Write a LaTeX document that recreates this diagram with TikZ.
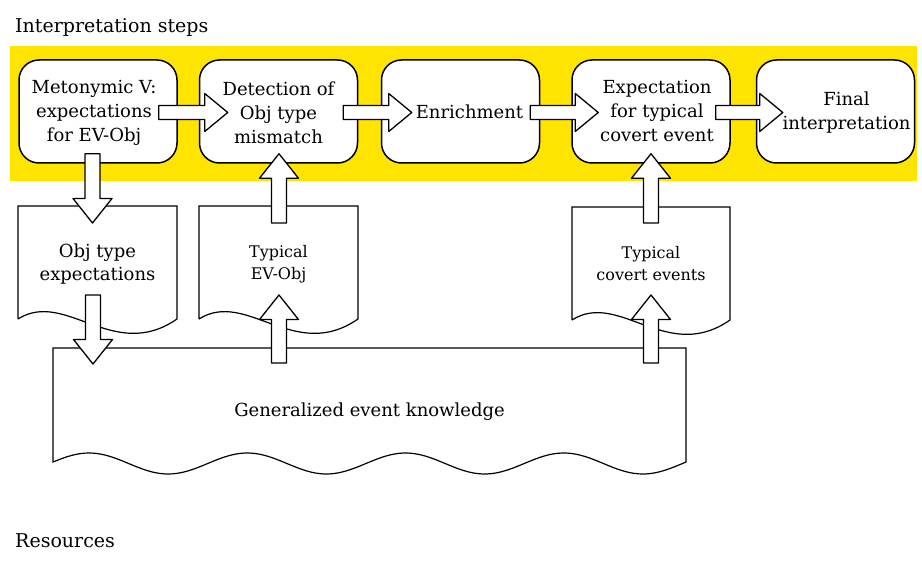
\documentclass[tikz,border=0pt]{standalone}
\usepackage{fontspec}
\setmainfont{DejaVu Serif}
\usetikzlibrary{calc}
\definecolor{bandyellow}{HTML}{FFE400}
\tikzset{
  stepbox/.style={draw=black, line width=1.5pt, fill=white, rounded corners=20pt,
    minimum width=158pt, minimum height=103pt, inner sep=0pt},
  steptext/.style={align=center, inner sep=0pt, font=\fontsize{18}{24}\selectfont},
  doctext/.style={align=center, inner sep=0pt, font=\fontsize{16}{22}\selectfont},
  doctextbig/.style={align=center, inner sep=0pt, font=\fontsize{18}{23}\selectfont},
  bigtext/.style={inner sep=0pt, font=\fontsize{18}{24}\selectfont},
  labeltext/.style={inner sep=0pt, font=\fontsize{19}{24}\selectfont},
  docline/.style={draw=black, line width=1.2pt},
  blockarrow/.style={draw=black, line width=1.3pt, fill=white, line join=round}
}
\newcommand\harr[2]{\draw[blockarrow] let \p1=(#1), \p2=(#2) in
  (\x1,\y1+7pt) -- (\x2-23pt,\y1+7pt) -- (\x2-23pt,\y1+19pt) -- (\x2,\y1)
  -- (\x2-23pt,\y1-19pt) -- (\x2-23pt,\y1-7pt) -- (\x1,\y1-7pt) -- cycle;}
\newcommand\darr[2]{\draw[blockarrow] let \p1=(#1), \p2=(#2) in
  (\x2-7.5pt,\y1) -- (\x2-7.5pt,\y2+24.5pt) -- (\x2-19.5pt,\y2+24.5pt) -- (\x2,\y2)
  -- (\x2+19.5pt,\y2+24.5pt) -- (\x2+7.5pt,\y2+24.5pt) -- (\x2+7.5pt,\y1) -- cycle;}
\newcommand\uarr[2]{\draw[blockarrow] let \p1=(#1), \p2=(#2) in
  (\x2-7.5pt,\y1) -- (\x2-7.5pt,\y2-24.5pt) -- (\x2-19.5pt,\y2-24.5pt) -- (\x2,\y2)
  -- (\x2+19.5pt,\y2-24.5pt) -- (\x2+7.5pt,\y2-24.5pt) -- (\x2+7.5pt,\y1) -- cycle;}
\begin{document}
\begin{tikzpicture}[x=1pt,y=-1pt]
\useasboundingbox (0,0) rectangle (922,567);
% labels
\node[labeltext, anchor=base west] (title) at (15,33) {Interpretation steps};
\node[labeltext, anchor=base west] (res) at (15,547) {Resources};
% yellow band
\node[fill=bandyellow, minimum width=907pt, minimum height=135pt, inner sep=0pt, anchor=north west] (band) at (10,46) {};
% step boxes
\node[stepbox] (b1) at (98,111.5) {};
\node[stepbox] (b2) at (278.5,111.5) {};
\node[stepbox] (b3) at (460.5,111.5) {};
\node[stepbox] (b4) at (651,111.5) {};
\node[stepbox] (b5) at (835.5,111.5) {};
\node[steptext] (t1) at ([xshift=-4pt,yshift=-1pt]b1.center) {Metonymic V:\\expectations\\for EV-Obj};
\node[steptext] (t2) at ([yshift=-1pt]b2.center) {Detection of\\Obj type\\mismatch};
\node[steptext] (t3) at ([xshift=9pt]b3.center) {Enrichment};
\node[steptext] (t4) at ([xshift=6pt,yshift=0pt]b4.center) {Expectation\\for typical\\covert event};
\node[steptext] (t5) at ([xshift=11pt,yshift=-1pt]b5.center) {Final\\interpretation};
% documents
\node[doctextbig] (d1) at (97.5,264) {Obj type\\expectations};
\node[doctext] (d2) at (278.5,264) {Typical\\EV-Obj};
\node[doctext] (d3) at (651,264) {Typical\\covert events};
\node[bigtext] (gek) at (369.5,412) {Generalized event knowledge};
\draw[docline] ($(d1.center)+(-79.5,55)$) -- ($(d1.center)+(-79.5,-58)$) -- ($(d1.center)+(79.5,-58)$) -- ($(d1.center)+(79.5,55)$)
  .. controls ($(d1.center)+(16,99)$) and ($(d1.center)+(-32,25)$) .. ($(d1.center)+(-79.5,55)$);
\draw[docline] ($(d2.center)+(-79.5,55)$) -- ($(d2.center)+(-79.5,-58)$) -- ($(d2.center)+(79.5,-58)$) -- ($(d2.center)+(79.5,55)$)
  .. controls ($(d2.center)+(16,99)$) and ($(d2.center)+(-32,25)$) .. ($(d2.center)+(-79.5,55)$);
\draw[docline] ($(d3.center)+(-79,56)$) -- ($(d3.center)+(-79,-57)$) -- ($(d3.center)+(79,-57)$) -- ($(d3.center)+(79,56)$)
  .. controls ($(d3.center)+(16,100)$) and ($(d3.center)+(-32,26)$) .. ($(d3.center)+(-79,56)$);
\draw[docline] (53,462) -- (53,348) -- (686,348) -- (686,462)
  -- plot[domain=686:53, samples=160, smooth] (\x, {463.5-10.5*sin((\x-53)/158.25*360+8)}) -- cycle;
% horizontal block arrows
\harr{[xshift=-19pt,yshift=-1pt]b1.east}{[xshift=29pt,yshift=-1pt]b2.west}
\harr{[xshift=-15pt,yshift=-1pt]b2.east}{[xshift=31pt,yshift=-1pt]b3.west}
\harr{[xshift=-10pt,yshift=-1pt]b3.east}{[xshift=27pt,yshift=-1pt]b4.west}
\harr{[xshift=-15pt,yshift=-1pt]b4.east}{[xshift=27pt,yshift=-1pt]b5.west}
% vertical block arrows
\darr{[xshift=-5.5pt,yshift=10pt]b1.south}{$(d1.center)+(-5,-41)$}
\darr{$(d1.center)+(-4.5,31)$}{$(gek.center)+(-276.5,-48)$}
\uarr{$(d2.center)+(0.5,-41)$}{[xshift=0.5pt,yshift=10pt]b2.south}
\uarr{$(gek.center)+(-90.5,-49)$}{$(d2.center)+(0.5,31)$}
\uarr{$(d3.center)+(0,-41)$}{[yshift=10pt]b4.south}
\uarr{$(gek.center)+(281.5,-49)$}{$(d3.center)+(0,31)$}
\end{tikzpicture}
\end{document}
